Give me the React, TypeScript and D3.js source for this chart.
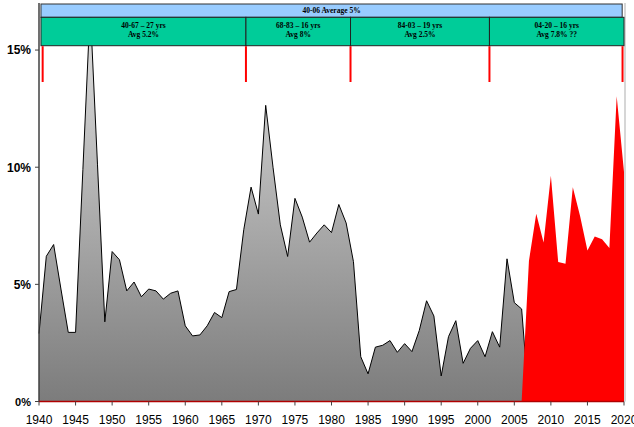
import React from "react";
import * as d3 from "d3";

const grayYears = [1940,1941,1942,1943,1944,1945,1946,1947,1948,1949,1950,1951,1952,1953,1954,1955,1956,1957,1958,1959,1960,1961,1962,1963,1964,1965,1966,1967,1968,1969,1970,1971,1972,1973,1974,1975,1976,1977,1978,1979,1980,1981,1982,1983,1984,1985,1986,1987,1988,1989,1990,1991,1992,1993,1994,1995,1996,1997,1998,1999,2000,2001,2002,2003,2004,2005,2006,2007];
const grayValues = [2.9,6.2,6.7,4.8,2.95,2.95,9.9,16.8,10.1,3.4,6.4,6.05,4.72,5.1,4.47,4.8,4.72,4.37,4.62,4.72,3.23,2.8,2.84,3.23,3.8,3.58,4.69,4.78,7.33,9.15,8.0,12.64,10.0,7.54,6.19,8.67,7.87,6.8,7.19,7.54,7.21,8.41,7.62,5.97,1.91,1.18,2.32,2.4,2.6,2.1,2.47,2.13,3.03,4.3,3.65,1.09,2.77,3.45,1.63,2.27,2.6,1.91,2.98,2.32,6.09,4.22,3.95,0];

const redYears = [2006,2007,2008,2009,2010,2011,2012,2013,2014,2015,2016,2017,2018,2019,2020];
const redValues = [0,6.0,8.01,6.79,9.64,5.95,5.88,9.14,7.91,6.45,7.04,6.93,6.55,13.03,9.8];

const xTicks = [1940,1945,1950,1955,1960,1965,1970,1975,1980,1985,1990,1995,2000,2005,2010,2015,2020];
const yTicks = [0,5,10,15];

const headerTitle = "40-06 Average 5%";
const periodStarts = [1940.27, 1968.3, 1982.6, 2001.6];
const periodEnds = [1968.3, 1982.6, 2001.6, 2020];
const periodLine1 = ["40-67 – 27 yrs", "68-83 – 16 yrs", "84-03 – 19 yrs", "04-20 – 16 yrs"];
const periodLine2 = ["Avg 5.2%", "Avg 8%", "Avg 2.5%", "Avg 7.8% ??"];
const markerYears = [1940.5, 1968.3, 1982.6, 2001.6, 2019.8];

export default function App() {
  const x = d3.scaleLinear().domain([1940, 2020]).range([39, 624]);
  const y = d3.scaleLinear().domain([0, 17]).range([401.5, 3.2]);

  const grayData = grayYears.map((yr, i) => [yr, grayValues[i]] as [number, number]);
  const redData = redYears.map((yr, i) => [yr, redValues[i]] as [number, number]);

  const area = d3.area<[number, number]>().x(d => x(d[0])).y0(y(0)).y1(d => y(d[1]));
  const line = d3.line<[number, number]>().x(d => x(d[0])).y(d => y(d[1]));

  const blueTop = 4, blueBottom = 17.3, greenBottom = 45.7, markerBottom = 82;
  const hdrFont = "'Liberation Serif', 'Times New Roman', serif";

  return (
    <svg width={634} height={427} style={{ position: "absolute", left: 0, top: 0, background: "#fff" }}>
      <defs>
        <linearGradient id="gg" x1="0" y1={y(16.8)} x2="0" y2={y(0)} gradientUnits="userSpaceOnUse">
          <stop offset="0" stopColor="#e2e2e2" />
          <stop offset="1" stopColor="#7c7c7c" />
        </linearGradient>
      </defs>
      {/* right plot border */}
      <line x1={625} x2={625} y1={3} y2={401.5} stroke="#c8c8c8" strokeWidth={1.5} />
      <path d={area(grayData) || ""} fill="url(#gg)" />
      <path d={line(grayData) || ""} fill="none" stroke="#000" strokeWidth={1} />
      <path d={area(redData) || ""} fill="#ff0000" />

      {/* header bars */}
      <rect x={x(1940.27)} y={blueTop} width={x(2019.75) - x(1940.27)} height={blueBottom - blueTop} fill="#99ccff" stroke="#333" strokeWidth={1} />
      <text x={(x(1940.27) + x(2019.75)) / 2} y={13.3} textAnchor="middle" fontFamily={hdrFont} fontWeight="bold" fontSize={7.5} fill="#000">{headerTitle}</text>
      {periodStarts.map((s, i) => (
        <g key={i}>
          <rect x={x(s)} y={blueBottom} width={x(periodEnds[i]) - x(s)} height={greenBottom - blueBottom} fill="#00cc99" stroke="#222" strokeWidth={1} />
          <text x={(x(s) + x(periodEnds[i])) / 2} y={27.5} textAnchor="middle" fontFamily={hdrFont} fontWeight="bold" fontSize={7.5} fill="#000">{periodLine1[i]}</text>
          <text x={(x(s) + x(periodEnds[i])) / 2} y={37} textAnchor="middle" fontFamily={hdrFont} fontWeight="bold" fontSize={7.5} fill="#000">{periodLine2[i]}</text>
        </g>
      ))}
      {markerYears.map((m, i) => (
        <line key={i} x1={x(m)} x2={x(m)} y1={greenBottom + 0.5} y2={markerBottom} stroke="#ff0000" strokeWidth={2} />
      ))}

      {/* y axis */}
      <line x1={39} x2={39} y1={3} y2={402} stroke="#404040" strokeWidth={1.5} />
      {yTicks.map(t => (
        <g key={t}>
          <line x1={35} x2={39} y1={y(t)} y2={y(t)} stroke="#404040" strokeWidth={1} />
          <text x={31} y={y(t) + 4.3} textAnchor="end" fontFamily="'Liberation Sans', Arial, sans-serif" fontWeight="bold" fontSize={t === 0 ? 11 : 12} fill="#000">{t + "%"}</text>
        </g>
      ))}

      {/* x axis */}
      <line x1={39} x2={624} y1={401.5} y2={401.5} stroke="#b00000" strokeWidth={1.5} />
      {xTicks.map(t => (
        <g key={t}>
          <line x1={x(t)} x2={x(t)} y1={401.5} y2={405.5} stroke="#404040" strokeWidth={1} />
          <text x={x(t)} y={424} textAnchor="middle" fontFamily="'Liberation Sans', Arial, sans-serif" fontSize={12} fill="#000">{t}</text>
        </g>
      ))}
    </svg>
  );
}
